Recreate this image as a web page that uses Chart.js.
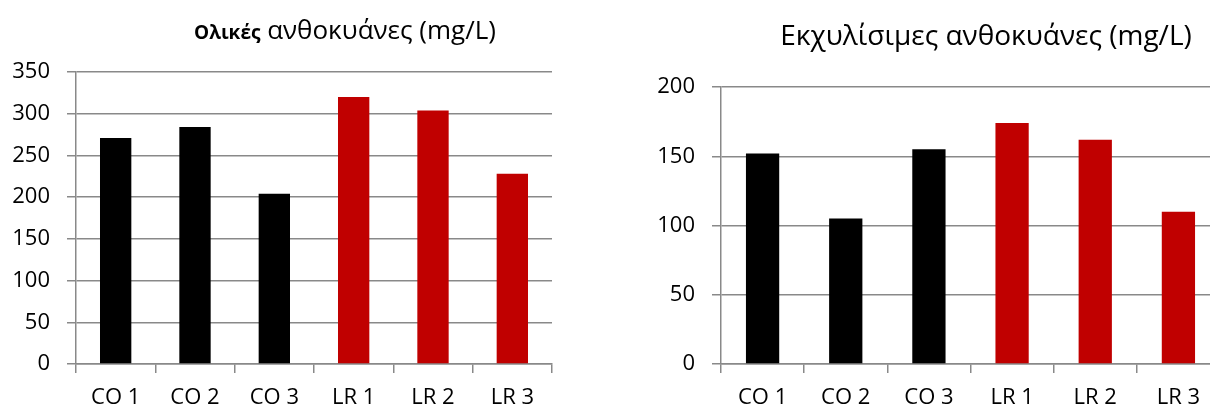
<!DOCTYPE html>
<html><head><meta charset="utf-8">
<script src="https://cdn.jsdelivr.net/npm/chart.js@4.4.0/dist/chart.umd.min.js"></script>
<style>
html,body{margin:0;padding:0;background:#fff;overflow:hidden;width:1210px;height:407px;}
#w1{position:absolute;left:0;top:0;width:600px;height:407px;}
#w2{position:absolute;left:600px;top:0;width:630px;height:407px;}
</style></head><body>
<div id="w1"><canvas id="c1"></canvas></div>
<div id="w2"><canvas id="c2"></canvas></div>
<script>
// ---- data ----
const categories = ['CO 1', 'CO 2', 'CO 3', 'LR 1', 'LR 2', 'LR 3'];
const totalValues = [271, 284, 204, 320, 304, 228];
const extractableValues = [152, 105, 155, 174, 162, 110];
const totalTicks = [0, 50, 100, 150, 200, 250, 300, 350];
const extractableTicks = [0, 50, 100, 150, 200];
const totalTitleBold = 'Ολικές';
const totalTitleRest = ' ανθοκυάνες (mg/L)';
const extractableTitle = 'Εκχυλίσιμες ανθοκυάνες (mg/L)';

// ---- styles ----
const FONT = '"Open Sans", "Liberation Sans", sans-serif';
const GRID = '#898989';
const CO_COLOR = '#000000';
const LR_COLOR = '#C00000';

const titlePlugin = {
  id: 'mixedTitle',
  afterDraw(chart, args, opts) {
    if (!opts || !opts.parts) return;
    const ctx = chart.ctx;
    ctx.save();
    let total = 0;
    const parts = opts.parts.map(p => {
      ctx.font = p.font;
      const w = ctx.measureText(p.text).width;
      total += w;
      return { ...p, w };
    });
    let x = opts.centerX - total / 2;
    ctx.textAlign = 'left';
    ctx.textBaseline = 'alphabetic';
    ctx.fillStyle = '#000';
    parts.forEach(p => { ctx.font = p.font; ctx.fillText(p.text, x, opts.baseline); x += p.w; });
    ctx.restore();
  }
};

function makeChart(id, values, ticks, cfg) {
  return new Chart(document.getElementById(id), {
    type: 'bar',
    data: {
      labels: categories,
      datasets: [{
        data: values,
        backgroundColor: categories.map(c => c.startsWith('CO') ? CO_COLOR : LR_COLOR),
        borderWidth: 0,
        barPercentage: cfg.barPct,
        categoryPercentage: 1
      }]
    },
    options: {
      responsive: true,
      maintainAspectRatio: false,
      animation: false,
      layout: { padding: { top: cfg.top, left: 0, right: cfg.right, bottom: 0 } },
      plugins: { legend: { display: false }, tooltip: { enabled: false }, mixedTitle: cfg.title },
      scales: {
        x: {
          grid: { display: true, drawOnChartArea: false, drawTicks: true, tickLength: 9, color: GRID, lineWidth: 1.5, offset: true },
          border: { display: true, color: GRID, width: 1.5 },
          ticks: { color: '#000', font: { family: FONT, size: 22 }, padding: 12, maxRotation: 0, autoSkip: false },
          afterFit: s => { s.height = 43; }
        },
        y: {
          min: ticks[0], max: ticks[ticks.length - 1],
          grid: { color: GRID, lineWidth: 1.5, tickLength: 9, drawTicks: true },
          border: { display: true, color: GRID, width: 1.5 },
          ticks: { stepSize: ticks[1] - ticks[0], color: '#000', font: { family: FONT, size: 22 }, padding: 17 },
          afterFit: s => { s.width = cfg.yWidth; }
        }
      }
    },
    plugins: [titlePlugin]
  });
}

makeChart('c1', totalValues, totalTicks, {
  top: 72, right: 48, yWidth: 76, barPct: 0.395,
  title: { centerX: 345, baseline: 39, parts: [
    { text: totalTitleBold, font: 'bold 19px ' + FONT },
    { text: totalTitleRest, font: '26px ' + FONT }
  ] }
});
makeChart('c2', extractableValues, extractableTicks, {
  top: 87, right: 10, yWidth: 121, barPct: 0.40,
  title: { centerX: 386, baseline: 45, parts: [
    { text: extractableTitle, font: '28px ' + FONT }
  ] }
});
</script>
</body></html>
